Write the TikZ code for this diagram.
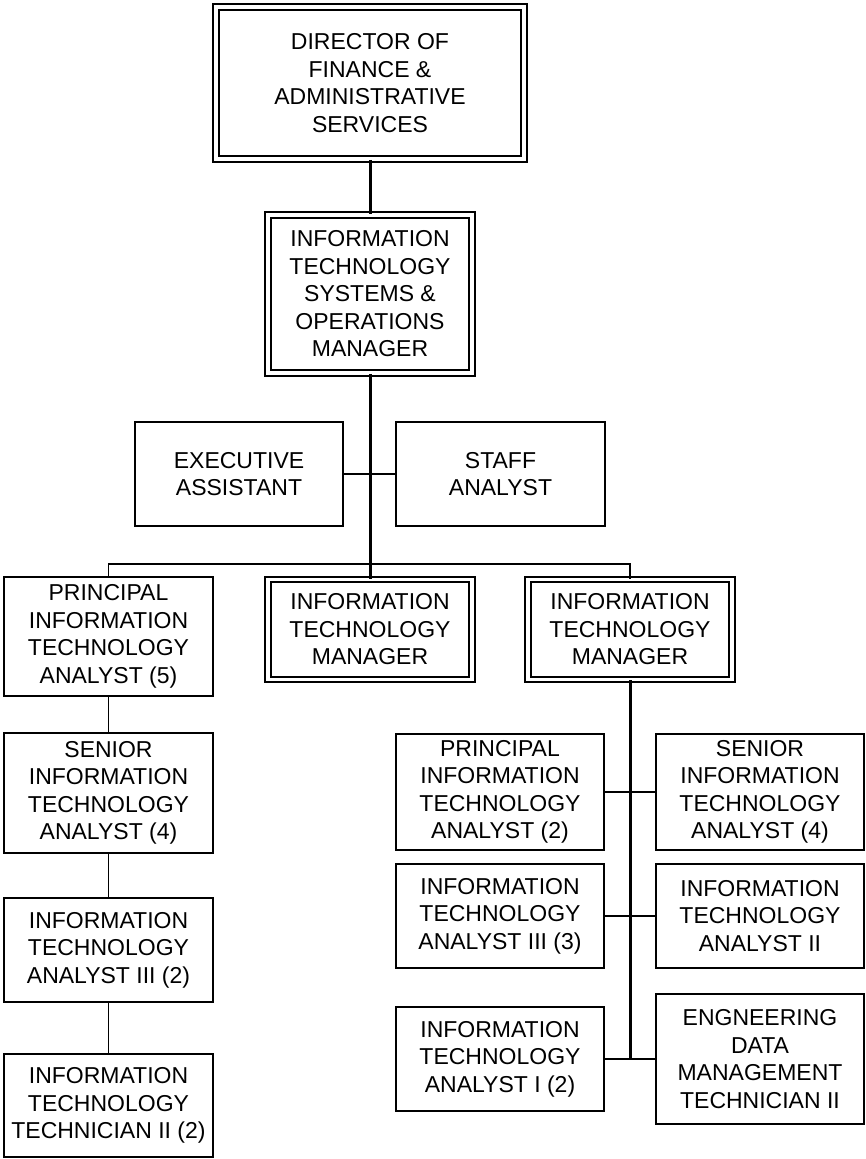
\documentclass[tikz,border=0pt]{standalone}
\usepackage{fontspec}
\setmainfont{Liberation Sans}

\begin{document}
\begin{tikzpicture}[
  x=1pt, y=-1pt,
  font=\fontsize{23}{27.5}\selectfont,
  orgbox/.style={draw, line width=1.9pt, align=center, inner sep=0pt,
                 minimum width=209pt, minimum height=104pt},
  dblbox/.style={orgbox, double, double distance=3.4pt, line width=1.9pt},
  link/.style={line width=1.9pt},
  trunk/.style={line width=3pt},
]
% Coordinate system: 1pt = 1 pixel of the chart, y runs downward
\useasboundingbox (0,0) rectangle (866,1159);

% --- Top of the chart ---
\node[dblbox, minimum width=308pt, minimum height=152pt] (dir) at (370,83)
  {DIRECTOR OF\\FINANCE \&\\ADMINISTRATIVE\\SERVICES};
\node[dblbox, minimum width=204pt, minimum height=158pt] (itsom) at (370,294)
  {INFORMATION\\TECHNOLOGY\\SYSTEMS \&\\OPERATIONS\\MANAGER};

% --- Staff boxes ---
\node[orgbox, minimum width=208pt] (exec) at (239,474) {EXECUTIVE\\ASSISTANT};
\node[orgbox, minimum width=209pt] (staff) at (500.5,474) {STAFF\\ANALYST};

% --- Second level ---
\node[orgbox, minimum height=119pt] (pita5) at (108.5,636.5)
  {PRINCIPAL\\INFORMATION\\TECHNOLOGY\\ANALYST (5)};
\node[dblbox, minimum width=204pt, minimum height=100pt] (itm1) at (370,629.5)
  {INFORMATION\\TECHNOLOGY\\MANAGER};
\node[dblbox, minimum width=204pt, minimum height=100pt] (itm2) at (630,629.5)
  {INFORMATION\\TECHNOLOGY\\MANAGER};
\coordinate (bus) at (370,564);

% --- Left column ---
\node[orgbox, minimum height=120pt] (sita4a) at (108.5,793)
  {SENIOR\\INFORMATION\\TECHNOLOGY\\ANALYST (4)};
\node[orgbox] (ita3a) at (108.5,950)
  {INFORMATION\\TECHNOLOGY\\ANALYST III (2)};
\node[orgbox, minimum height=103pt] (itt2) at (108.5,1105.5)
  {INFORMATION\\TECHNOLOGY\\TECHNICIAN II (2)};

% --- Right group ---
\node[orgbox, minimum width=208pt, minimum height=116pt] (pita2) at (500,792)
  {PRINCIPAL\\INFORMATION\\TECHNOLOGY\\ANALYST (2)};
\node[orgbox, minimum width=208pt, minimum height=116pt] (sita4b) at (760,792)
  {SENIOR\\INFORMATION\\TECHNOLOGY\\ANALYST (4)};
\node[orgbox, minimum width=208pt] (ita3b) at (500,916)
  {INFORMATION\\TECHNOLOGY\\ANALYST III (3)};
\node[orgbox, minimum width=208pt] (ita2) at (760,916)
  {INFORMATION\\TECHNOLOGY\\ANALYST II};
\node[orgbox, minimum width=208pt] (ita1) at (500,1059)
  {INFORMATION\\TECHNOLOGY\\ANALYST I (2)};
\node[orgbox, minimum width=208pt, minimum height=130pt] (eng) at (760,1059)
  {ENGNEERING\\DATA\\MANAGEMENT\\TECHNICIAN II};

% --- Connectors ---
\draw[trunk] (dir.south) -- (itsom.north);
\draw[trunk] (itsom.south) -- (itm1.north);
\draw[link] (exec.east) -- (staff.west);
\draw[link] (pita5.north) |- (bus) -| (itm2.north);
\draw[link] (pita5.south) -- (sita4a.north);
\draw[link] (sita4a.south) -- (ita3a.north);
\draw[link] (ita3a.south) -- (itt2.north);
\draw[trunk] (itm2.south) -- (itm2.south |- eng.west);
\draw[link] (pita2.east) -- (sita4b.west);
\draw[link] (ita3b.east) -- (ita2.west);
\draw[link] (ita1.east) -- (eng.west);

\end{tikzpicture}
\end{document}
